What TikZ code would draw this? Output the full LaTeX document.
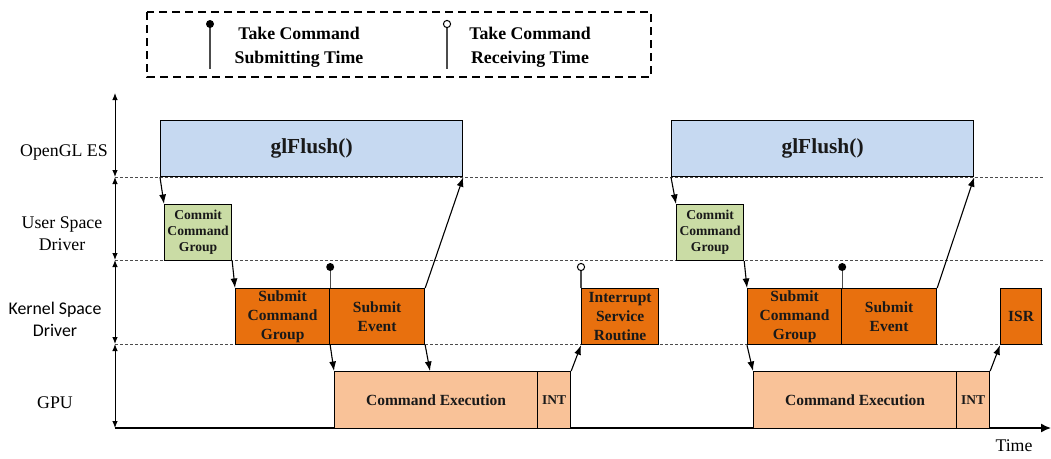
\documentclass[tikz,border=0pt]{standalone}
\usepackage{fontspec}
\setmainfont{Liberation Serif}
\newfontfamily\calib{Carlito}
\usetikzlibrary{arrows.meta}
\definecolor{glblue}{RGB}{198,217,241}
\definecolor{cgreen}{RGB}{202,220,165}
\definecolor{korange}{RGB}{232,112,14}
\definecolor{gpeach}{RGB}{249,194,152}
\begin{document}
\begin{tikzpicture}[x=1pt,y=-1pt,
  blk/.style={draw=black, line width=1.2pt, inner sep=0pt, anchor=north west,
    align=center, text=black!90, font=\bfseries\fontsize{15.5}{19}\selectfont},
  glbox/.style={blk, fill=glblue, minimum width=302pt, minimum height=56pt,
    font=\bfseries\fontsize{21.4}{24}\selectfont},
  cmbox/.style={blk, fill=cgreen, minimum width=67pt, minimum height=56pt,
    font=\bfseries\fontsize{13.6}{16}\selectfont},
  kbox/.style={blk, fill=korange, minimum height=56pt},
  gbox/.style={blk, fill=gpeach, minimum height=57pt},
  sep/.style={draw=black!70, line width=0.7pt, dash pattern=on 3pt off 2pt},
  arr/.style={draw=black, line width=1.1pt, -{Latex[length=9.5pt,width=7pt]}},
  lane/.style={draw=black, line width=0.9pt, {Latex[length=7pt,width=5.5pt]}-{Latex[length=7pt,width=5.5pt]}},
  lbl/.style={font=\fontsize{17.8}{22}\selectfont, align=center, inner sep=0pt},
  legtxt/.style={font=\bfseries\fontsize{17.8}{24}\selectfont, align=center, inner sep=0pt},
  pin/.style={draw=black!70, line width=1.2pt},
]
\useasboundingbox (0,0) rectangle (1051,458);

% legend
\draw[line width=1.3pt, dash pattern=on 8pt off 5pt] (147,12) rectangle (651,77);
\coordinate (ls1) at (210,24);
\coordinate (ls2) at (210,69);
\coordinate (lr1) at (447,24);
\coordinate (lr2) at (447,69);
\draw[pin] (ls1) -- (ls2);
\fill (ls1) circle (4pt);
\draw[pin] (lr1) -- (lr2);
\draw[line width=1pt, fill=white] (lr1) circle (3.6pt);
\node[legtxt] (lsub) at (299,47) {Take Command\\Submitting Time};
\node[legtxt] (lrec) at (530,47) {Take Command\\Receiving Time};

% lanes on the left
\coordinate (a0) at (115,93);
\coordinate (a1) at (115,177);
\coordinate (a2) at (115,260);
\coordinate (a3) at (115,344);
\coordinate (a4) at (115,428);
\coordinate (b1) at (1043,177);
\coordinate (b2) at (1043,260);
\coordinate (b3) at (1043,344);
\coordinate (tend) at (1051,428);
\draw[sep] (a1) -- (b1);
\draw[sep] (a2) -- (b2);
\draw[sep] (a3) -- (b3);
\draw[lane] (a0) -- (a1);
\draw[lane] (a1) -- (a2);
\draw[lane] (a2) -- (a3);
\draw[lane] (a3) -- (a4);
\draw[line width=1.5pt, -{Latex[length=10pt,width=9pt]}] (a4) -- (tend);
\node[lbl] (time) at (1014,446) {Time};

\node[lbl] (lgl) at (64,152) {OpenGL ES};
\node[lbl] (lusr) at (62,234) {User Space\\Driver};
\node[lbl, font=\calib\fontsize{17.8}{22}\selectfont] (lker) at (55,319) {Kernel Space\\Driver};
\node[lbl] (lgpu) at (55,403) {GPU};

% first frame
\node[glbox] (gl1) at (160,120) {glFlush()};
\node[cmbox] (cm1) at (164,204) {Commit\\Command\\Group};
\node[kbox, minimum width=94pt] (scg1) at (235,288) {Submit\\Command\\Group};
\node[kbox, minimum width=95pt] (se1) at (329,288) {Submit\\Event};
\node[gbox, minimum width=203pt] (ce1) at (334,371) {Command Execution};
\node[gbox, minimum width=33pt, font=\bfseries\fontsize{13.5}{16}\selectfont] (int1) at (537,371) {INT};
\node[kbox, minimum width=77pt] (isr1) at (581,288) {Interrupt\\Service\\Routine};

\draw[arr] (gl1.south west) -- (cm1.north west);
\draw[arr] (cm1.south east) -- (scg1.north west);
\draw[arr] (se1.north east) -- (gl1.south east);
\draw[pin] (scg1.north east) -- ++(0,-21) coordinate (p1);
\fill (p1) circle (4pt);
\draw[arr] (scg1.south east) -- (ce1.north west);
\draw[arr] (se1.south east) -- ([xshift=96pt]ce1.north west);
\draw[arr] (int1.north east) -- (isr1.south west);
\draw[pin] (isr1.north west) -- ++(0,-21) coordinate (p2);
\draw[line width=1pt, fill=white] (p2) circle (3.6pt);

% second frame
\node[glbox] (gl2) at (671,120) {glFlush()};
\node[cmbox] (cm2) at (676,204) {Commit\\Command\\Group};
\node[kbox, minimum width=94pt] (scg2) at (747,288) {Submit\\Command\\Group};
\node[kbox, minimum width=95pt] (se2) at (841,288) {Submit\\Event};
\node[gbox, minimum width=203pt] (ce2) at (753,371) {Command Execution};
\node[gbox, minimum width=33pt, font=\bfseries\fontsize{13.5}{16}\selectfont] (int2) at (956,371) {INT};
\node[kbox, minimum width=41pt] (isr2) at (1000,288) {ISR};

\draw[arr] (gl2.south west) -- (cm2.north west);
\draw[arr] (cm2.south east) -- (scg2.north west);
\draw[arr] (se2.north east) -- (gl2.south east);
\draw[pin] (scg2.north east) -- ++(0,-21) coordinate (p3);
\fill (p3) circle (4pt);
\draw[arr] (scg2.south west) -- (ce2.north west);
\draw[arr] (int2.north east) -- (isr2.south west);
\end{tikzpicture}
\end{document}
